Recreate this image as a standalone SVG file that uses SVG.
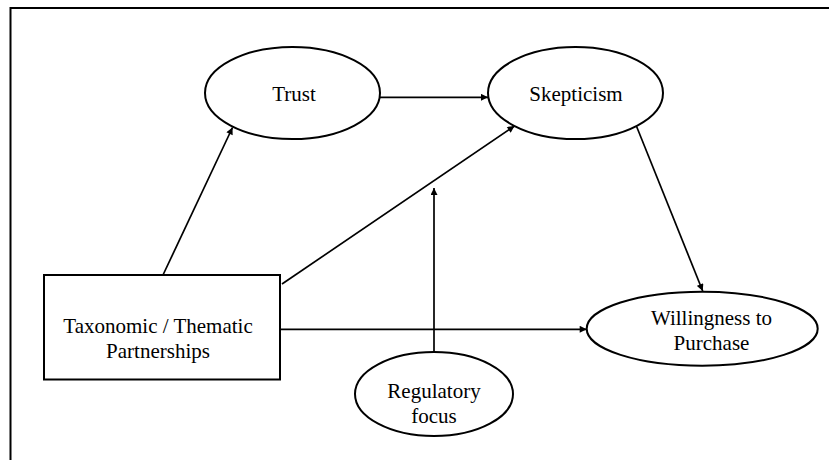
<svg xmlns="http://www.w3.org/2000/svg" width="829" height="460" viewBox="0 0 829 460">
  <style>
    .shape { fill: #ffffff; stroke: #000000; stroke-width: 2; }
    .edge { fill: none; stroke: #000000; stroke-width: 1.7; marker-end: url(#arr); }
    .lbl { font-family: "Times New Roman", Tinos, "Liberation Serif", "Noto Serif", "DejaVu Serif", FreeSerif, Georgia, serif; font-size: 21px; fill: #000000; text-anchor: middle; }
  </style>
  <defs>
    <marker id="arr" viewBox="0 0 10 10" refX="10" refY="5" markerWidth="9" markerHeight="7" markerUnits="userSpaceOnUse" orient="auto">
      <path d="M0,0 L10,5 L0,10 z" fill="#000000"/>
    </marker>
  </defs>
  <rect x="0" y="0" width="829" height="460" fill="#ffffff"/>
  <rect x="10.5" y="8" width="830" height="470" fill="none" stroke="#000000" stroke-width="2"/>

  <g id="connectors">
    <line class="edge" x1="163" y1="275" x2="232.5" y2="127.5"/>
    <line class="edge" x1="380" y1="97.3" x2="488" y2="97.3"/>
    <line class="edge" x1="282" y1="284" x2="514.5" y2="126"/>
    <line class="edge" x1="636.7" y1="126.7" x2="702.7" y2="291"/>
    <line class="edge" x1="280" y1="329.3" x2="586.7" y2="329.3"/>
    <line class="edge" x1="434" y1="352" x2="434" y2="188"/>
  </g>

  <g id="trust">
    <ellipse class="shape" cx="292.5" cy="93" rx="87.5" ry="46"/>
    <text class="lbl" x="294" y="101">Trust</text>
  </g>
  <g id="skepticism">
    <ellipse class="shape" cx="575.5" cy="93" rx="87.5" ry="46"/>
    <text class="lbl" x="576" y="101">Skepticism</text>
  </g>
  <g id="partnerships">
    <rect class="shape" x="44" y="275" width="236" height="104.5"/>
    <text class="lbl" x="158" y="333">Taxonomic / Thematic</text>
    <text class="lbl" x="158" y="358">Partnerships</text>
  </g>
  <g id="willingness">
    <ellipse class="shape" cx="702.2" cy="328.7" rx="115.5" ry="37"/>
    <text class="lbl" x="711.5" y="325">Willingness to</text>
    <text class="lbl" x="711.5" y="350">Purchase</text>
  </g>
  <g id="regulatory">
    <ellipse class="shape" cx="434" cy="394" rx="79" ry="42"/>
    <text class="lbl" x="434" y="398">Regulatory</text>
    <text class="lbl" x="434" y="423">focus</text>
  </g>
</svg>
